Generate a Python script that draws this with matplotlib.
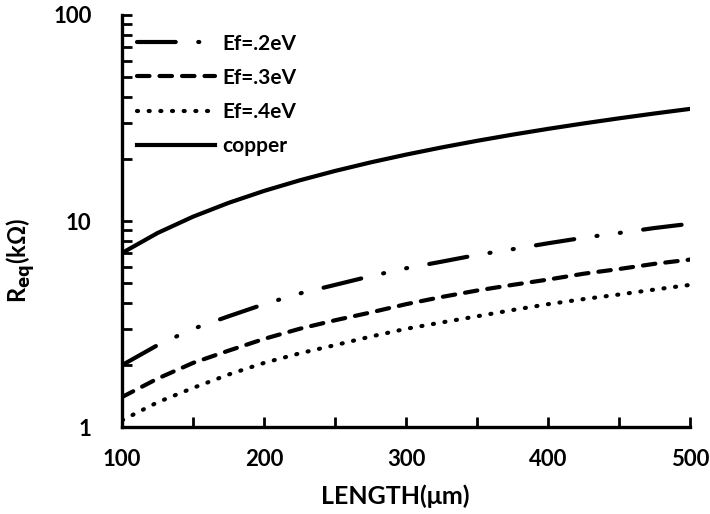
import numpy as np
import matplotlib.pyplot as plt
from matplotlib.ticker import FixedLocator, NullFormatter, LogLocator

plt.rcParams['font.family'] = ['Lato', 'DejaVu Sans']
plt.rcParams['font.weight'] = 'bold'

length = [100, 125, 150, 175, 200, 225, 250, 275, 300, 325, 350, 375, 400, 425, 450, 475, 500]
ef02 = [2.0, 2.5, 3.0, 3.45, 3.95, 4.45, 4.9, 5.4, 5.9, 6.35, 6.85, 7.3, 7.8, 8.3, 8.75, 9.25, 9.7]
ef03 = [1.4, 1.72, 2.05, 2.35, 2.68, 3.0, 3.3, 3.6, 3.95, 4.28, 4.6, 4.9, 5.2, 5.55, 5.85, 6.2, 6.5]
ef04 = [1.08, 1.32, 1.55, 1.8, 2.05, 2.28, 2.5, 2.75, 3.0, 3.22, 3.45, 3.7, 3.95, 4.18, 4.4, 4.65, 4.9]
copper = [7.0, 8.75, 10.5, 12.25, 14.0, 15.75, 17.5, 19.25, 21.0, 22.75, 24.5, 26.25, 28.0,
          29.75, 31.5, 33.25, 35.0]
labels = ['Ef=.2eV', 'Ef=.3eV', 'Ef=.4eV', 'copper']

fig = plt.figure(figsize=(7.1, 5.14), dpi=100)
ax = fig.add_axes([0.172, 0.169, 0.8, 0.802])

lw = 3.0
ax.plot(length, ef02, color='black', lw=lw, dashes=(9.3, 5.4, 0.25, 5.4, 0.25, 5.4),
        dash_capstyle='round', label=labels[0])
ax.plot(length, ef03, color='black', lw=lw, dashes=(3.0, 2.4),
        dash_capstyle='round', label=labels[1])
ax.plot(length, ef04, color='black', lw=lw, dashes=(0.25, 2.55),
        dash_capstyle='round', label=labels[2])
ax.plot(length, copper, color='black', lw=lw, label=labels[3])

ax.set_yscale('log')
ax.set_xlim(100, 500)
ax.set_ylim(1, 100)
ax.set_xticks([100, 200, 300, 400, 500])
ax.xaxis.set_minor_locator(FixedLocator([150, 250, 350, 450]))
ax.set_yticks([1, 10, 100])
ax.set_yticklabels(['1', '10', '100'])
ax.yaxis.set_minor_locator(LogLocator(base=10, subs=np.arange(2, 10)))
ax.yaxis.set_minor_formatter(NullFormatter())

for s in ['top', 'right']:
    ax.spines[s].set_visible(False)
for s in ['left', 'bottom']:
    ax.spines[s].set_linewidth(2.4)

ax.tick_params(axis='both', which='both', direction='in', width=2, labelsize=16)
ax.tick_params(axis='y', which='major', length=7, pad=22)
ax.tick_params(axis='x', which='major', length=7, pad=16)
ax.tick_params(axis='both', which='minor', length=7)

ax.set_xlabel('LENGTH(μm)', fontsize=18, fontweight='bold')
ax.xaxis.set_label_coords(0.48, -0.14)
ax.set_ylabel(r'R$_{\mathbf{eq}}$(kΩ)', fontsize=17, fontweight='bold')
ax.yaxis.set_label_coords(-0.15, 0.405)

leg = ax.legend(loc='upper left', frameon=False, fontsize=15, handlelength=3.75,
                handletextpad=0.33, labelspacing=0.68, borderaxespad=0.0,
                bbox_to_anchor=(0.012, 0.975))

fig.savefig('out.png', dpi=100)
